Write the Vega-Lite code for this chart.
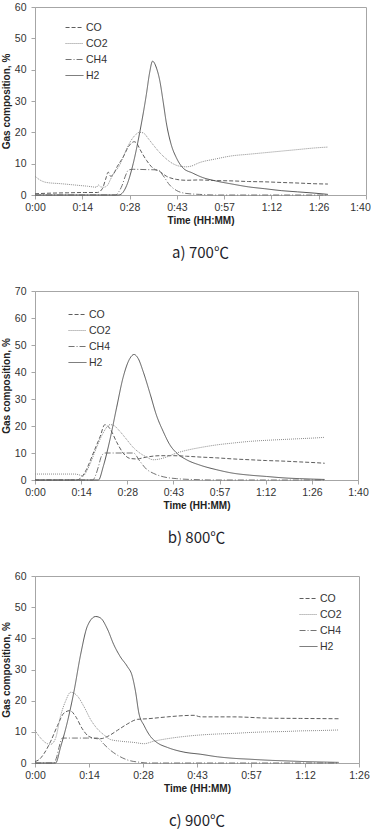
{
  "$schema": "https://vega.github.io/schema/vega-lite/v6.json",
  "padding": {"top": 1, "left": 0, "right": 0, "bottom": 0},
  "spacing": 24,
  "datasets": {
    "a": [
      {"gas": "CO", "t": 0, "v": 0.4}, {"gas": "CO", "t": 5, "v": 0.6}, {"gas": "CO", "t": 10, "v": 0.7}, {"gas": "CO", "t": 15, "v": 0.8}, {"gas": "CO", "t": 19, "v": 0.8},
      {"gas": "CO", "t": 20.5, "v": 2}, {"gas": "CO", "t": 21.5, "v": 5}, {"gas": "CO", "t": 22.3, "v": 7.3}, {"gas": "CO", "t": 23, "v": 6}, {"gas": "CO", "t": 23.8, "v": 6.5},
      {"gas": "CO", "t": 25, "v": 9}, {"gas": "CO", "t": 26.8, "v": 12}, {"gas": "CO", "t": 28.5, "v": 15.5}, {"gas": "CO", "t": 30.2, "v": 17}, {"gas": "CO", "t": 31, "v": 16.5},
      {"gas": "CO", "t": 32, "v": 14.5}, {"gas": "CO", "t": 34, "v": 11}, {"gas": "CO", "t": 36, "v": 8.5}, {"gas": "CO", "t": 38, "v": 7.5}, {"gas": "CO", "t": 40, "v": 6},
      {"gas": "CO", "t": 43, "v": 5}, {"gas": "CO", "t": 46, "v": 4.7}, {"gas": "CO", "t": 50, "v": 4.8}, {"gas": "CO", "t": 55, "v": 4.6}, {"gas": "CO", "t": 60, "v": 4.5},
      {"gas": "CO", "t": 65, "v": 4.3}, {"gas": "CO", "t": 70, "v": 4.2}, {"gas": "CO", "t": 75, "v": 4}, {"gas": "CO", "t": 80.5, "v": 3.8}, {"gas": "CO", "t": 85, "v": 3.6}, {"gas": "CO", "t": 89.2, "v": 3.5},
      {"gas": "CO2", "t": 0, "v": 6}, {"gas": "CO2", "t": 1.5, "v": 4.8}, {"gas": "CO2", "t": 3.5, "v": 4}, {"gas": "CO2", "t": 8, "v": 3.6}, {"gas": "CO2", "t": 12, "v": 3.2},
      {"gas": "CO2", "t": 16, "v": 2.8}, {"gas": "CO2", "t": 18.7, "v": 2.5}, {"gas": "CO2", "t": 19.3, "v": 3.2}, {"gas": "CO2", "t": 20, "v": 2.6}, {"gas": "CO2", "t": 21, "v": 2.5},
      {"gas": "CO2", "t": 22, "v": 3}, {"gas": "CO2", "t": 23, "v": 5}, {"gas": "CO2", "t": 24, "v": 7}, {"gas": "CO2", "t": 25.5, "v": 9}, {"gas": "CO2", "t": 27, "v": 12.5},
      {"gas": "CO2", "t": 28.5, "v": 16}, {"gas": "CO2", "t": 30, "v": 18.5}, {"gas": "CO2", "t": 31.9, "v": 20}, {"gas": "CO2", "t": 33, "v": 19.8}, {"gas": "CO2", "t": 34.5, "v": 18},
      {"gas": "CO2", "t": 36, "v": 16}, {"gas": "CO2", "t": 38, "v": 13.5}, {"gas": "CO2", "t": 40, "v": 11.5}, {"gas": "CO2", "t": 42, "v": 10}, {"gas": "CO2", "t": 44, "v": 9.2},
      {"gas": "CO2", "t": 46, "v": 9}, {"gas": "CO2", "t": 47.5, "v": 9.2}, {"gas": "CO2", "t": 50, "v": 10.3}, {"gas": "CO2", "t": 55, "v": 11.5}, {"gas": "CO2", "t": 60, "v": 12.5},
      {"gas": "CO2", "t": 65, "v": 13}, {"gas": "CO2", "t": 70, "v": 13.5}, {"gas": "CO2", "t": 75, "v": 14}, {"gas": "CO2", "t": 80, "v": 14.5}, {"gas": "CO2", "t": 85, "v": 15}, {"gas": "CO2", "t": 89.2, "v": 15.3},
      {"gas": "CH4", "t": 0, "v": 0}, {"gas": "CH4", "t": 24.5, "v": 0}, {"gas": "CH4", "t": 25.5, "v": 1}, {"gas": "CH4", "t": 26.5, "v": 3}, {"gas": "CH4", "t": 27.5, "v": 6},
      {"gas": "CH4", "t": 28.5, "v": 8}, {"gas": "CH4", "t": 30, "v": 8.2}, {"gas": "CH4", "t": 34, "v": 8.1}, {"gas": "CH4", "t": 37.5, "v": 8}, {"gas": "CH4", "t": 39, "v": 6.2},
      {"gas": "CH4", "t": 41, "v": 3.2}, {"gas": "CH4", "t": 43, "v": 1.5}, {"gas": "CH4", "t": 46, "v": 0.5}, {"gas": "CH4", "t": 50, "v": 0.2}, {"gas": "CH4", "t": 55, "v": 0}, {"gas": "CH4", "t": 89.2, "v": 0},
      {"gas": "H2", "t": 0, "v": 0}, {"gas": "H2", "t": 25.5, "v": 0}, {"gas": "H2", "t": 26.5, "v": 0.5}, {"gas": "H2", "t": 27.9, "v": 3}, {"gas": "H2", "t": 29.9, "v": 10},
      {"gas": "H2", "t": 31.9, "v": 20}, {"gas": "H2", "t": 33.9, "v": 32}, {"gas": "H2", "t": 34.9, "v": 39}, {"gas": "H2", "t": 35.8, "v": 42.7}, {"gas": "H2", "t": 37, "v": 40.5},
      {"gas": "H2", "t": 38, "v": 36.5}, {"gas": "H2", "t": 39, "v": 30}, {"gas": "H2", "t": 40, "v": 23}, {"gas": "H2", "t": 41.5, "v": 16}, {"gas": "H2", "t": 43, "v": 12},
      {"gas": "H2", "t": 45, "v": 8.7}, {"gas": "H2", "t": 48, "v": 7}, {"gas": "H2", "t": 51, "v": 5.6}, {"gas": "H2", "t": 55, "v": 4.5}, {"gas": "H2", "t": 60, "v": 3.5},
      {"gas": "H2", "t": 65, "v": 2.6}, {"gas": "H2", "t": 70, "v": 2}, {"gas": "H2", "t": 75, "v": 1.4}, {"gas": "H2", "t": 80, "v": 1}, {"gas": "H2", "t": 85, "v": 0.6}, {"gas": "H2", "t": 89.2, "v": 0.2}
    ],
    "b": [
      {"gas": "CO", "t": 0, "v": 0}, {"gas": "CO", "t": 13, "v": 0}, {"gas": "CO", "t": 14.5, "v": 1}, {"gas": "CO", "t": 16.1, "v": 4}, {"gas": "CO", "t": 18.2, "v": 10},
      {"gas": "CO", "t": 20.3, "v": 16}, {"gas": "CO", "t": 21.8, "v": 20.5}, {"gas": "CO", "t": 23.4, "v": 19}, {"gas": "CO", "t": 25.5, "v": 14}, {"gas": "CO", "t": 27.5, "v": 10},
      {"gas": "CO", "t": 29.6, "v": 8}, {"gas": "CO", "t": 31.7, "v": 7.8}, {"gas": "CO", "t": 34.8, "v": 8.5}, {"gas": "CO", "t": 39, "v": 9}, {"gas": "CO", "t": 43.1, "v": 9},
      {"gas": "CO", "t": 47.3, "v": 8.8}, {"gas": "CO", "t": 51.5, "v": 8.5}, {"gas": "CO", "t": 56.7, "v": 8.2}, {"gas": "CO", "t": 61.9, "v": 7.8}, {"gas": "CO", "t": 67, "v": 7.5},
      {"gas": "CO", "t": 72.3, "v": 7.2}, {"gas": "CO", "t": 77.4, "v": 7}, {"gas": "CO", "t": 82.6, "v": 6.7}, {"gas": "CO", "t": 87.8, "v": 6.4}, {"gas": "CO", "t": 90.4, "v": 6.2},
      {"gas": "CO2", "t": 0, "v": 2.2}, {"gas": "CO2", "t": 12.5, "v": 2.2}, {"gas": "CO2", "t": 13.5, "v": 2}, {"gas": "CO2", "t": 15, "v": 1.5}, {"gas": "CO2", "t": 16, "v": 3},
      {"gas": "CO2", "t": 17.2, "v": 6}, {"gas": "CO2", "t": 19.2, "v": 12}, {"gas": "CO2", "t": 21.3, "v": 17.5}, {"gas": "CO2", "t": 23.4, "v": 20.5}, {"gas": "CO2", "t": 24.4, "v": 20.3},
      {"gas": "CO2", "t": 26.5, "v": 18}, {"gas": "CO2", "t": 28.6, "v": 15}, {"gas": "CO2", "t": 30.7, "v": 12}, {"gas": "CO2", "t": 32.7, "v": 10}, {"gas": "CO2", "t": 34.8, "v": 8.5},
      {"gas": "CO2", "t": 36.9, "v": 7.5}, {"gas": "CO2", "t": 39, "v": 7.8}, {"gas": "CO2", "t": 41, "v": 8.5}, {"gas": "CO2", "t": 44.2, "v": 10}, {"gas": "CO2", "t": 47.3, "v": 11},
      {"gas": "CO2", "t": 51.5, "v": 12}, {"gas": "CO2", "t": 56.7, "v": 13}, {"gas": "CO2", "t": 61.9, "v": 13.7}, {"gas": "CO2", "t": 67, "v": 14.3}, {"gas": "CO2", "t": 72.3, "v": 14.7},
      {"gas": "CO2", "t": 77.4, "v": 15}, {"gas": "CO2", "t": 82.6, "v": 15.3}, {"gas": "CO2", "t": 87.8, "v": 15.6}, {"gas": "CO2", "t": 90.4, "v": 15.8},
      {"gas": "CH4", "t": 0, "v": 0}, {"gas": "CH4", "t": 18, "v": 0}, {"gas": "CH4", "t": 19, "v": 2}, {"gas": "CH4", "t": 19.8, "v": 5}, {"gas": "CH4", "t": 20.8, "v": 9},
      {"gas": "CH4", "t": 21.8, "v": 10}, {"gas": "CH4", "t": 25, "v": 10}, {"gas": "CH4", "t": 30.7, "v": 10}, {"gas": "CH4", "t": 32.7, "v": 7}, {"gas": "CH4", "t": 34.8, "v": 4},
      {"gas": "CH4", "t": 36.9, "v": 2.5}, {"gas": "CH4", "t": 40, "v": 1.2}, {"gas": "CH4", "t": 44.2, "v": 0.5}, {"gas": "CH4", "t": 51.5, "v": 0.1}, {"gas": "CH4", "t": 55, "v": 0}, {"gas": "CH4", "t": 90.4, "v": 0},
      {"gas": "H2", "t": 0, "v": 0}, {"gas": "H2", "t": 19.8, "v": 0}, {"gas": "H2", "t": 21.3, "v": 5}, {"gas": "H2", "t": 23.4, "v": 15}, {"gas": "H2", "t": 25.5, "v": 27},
      {"gas": "H2", "t": 27.5, "v": 38}, {"gas": "H2", "t": 29.6, "v": 45}, {"gas": "H2", "t": 30.9, "v": 46.5}, {"gas": "H2", "t": 32.2, "v": 45}, {"gas": "H2", "t": 33.8, "v": 40},
      {"gas": "H2", "t": 35.9, "v": 32}, {"gas": "H2", "t": 37.9, "v": 24}, {"gas": "H2", "t": 40, "v": 18}, {"gas": "H2", "t": 42.1, "v": 13}, {"gas": "H2", "t": 44.2, "v": 10},
      {"gas": "H2", "t": 47.3, "v": 7.5}, {"gas": "H2", "t": 51.5, "v": 5.5}, {"gas": "H2", "t": 56.7, "v": 3.8}, {"gas": "H2", "t": 61.9, "v": 2.5}, {"gas": "H2", "t": 67, "v": 1.8},
      {"gas": "H2", "t": 72.3, "v": 1.3}, {"gas": "H2", "t": 77.4, "v": 0.8}, {"gas": "H2", "t": 82.6, "v": 0.5}, {"gas": "H2", "t": 90.4, "v": 0.2}
    ],
    "c": [
      {"gas": "CO", "t": 0, "v": 0.5}, {"gas": "CO", "t": 1, "v": 1}, {"gas": "CO", "t": 2.4, "v": 3}, {"gas": "CO", "t": 4.2, "v": 7}, {"gas": "CO", "t": 6, "v": 12},
      {"gas": "CO", "t": 7.7, "v": 16}, {"gas": "CO", "t": 9.3, "v": 16.8}, {"gas": "CO", "t": 10.8, "v": 15}, {"gas": "CO", "t": 12.6, "v": 11}, {"gas": "CO", "t": 14.4, "v": 8.5},
      {"gas": "CO", "t": 16.6, "v": 7.8}, {"gas": "CO", "t": 17.5, "v": 7.8}, {"gas": "CO", "t": 19.3, "v": 8.5}, {"gas": "CO", "t": 22, "v": 10.5}, {"gas": "CO", "t": 24.6, "v": 12.5},
      {"gas": "CO", "t": 27.3, "v": 14}, {"gas": "CO", "t": 30, "v": 14.2}, {"gas": "CO", "t": 35.3, "v": 14.8}, {"gas": "CO", "t": 39.7, "v": 15.2}, {"gas": "CO", "t": 42.4, "v": 15.3},
      {"gas": "CO", "t": 44.2, "v": 14.8}, {"gas": "CO", "t": 53, "v": 14.8}, {"gas": "CO", "t": 62, "v": 14.4}, {"gas": "CO", "t": 70.8, "v": 14.3}, {"gas": "CO", "t": 81, "v": 14.2},
      {"gas": "CO2", "t": 0, "v": 10.5}, {"gas": "CO2", "t": 1.5, "v": 8}, {"gas": "CO2", "t": 3.3, "v": 6.2}, {"gas": "CO2", "t": 4.2, "v": 6}, {"gas": "CO2", "t": 5.5, "v": 8},
      {"gas": "CO2", "t": 6.8, "v": 15}, {"gas": "CO2", "t": 8.2, "v": 20}, {"gas": "CO2", "t": 9.5, "v": 22.7}, {"gas": "CO2", "t": 11.3, "v": 21.5}, {"gas": "CO2", "t": 13.1, "v": 18},
      {"gas": "CO2", "t": 14.8, "v": 14}, {"gas": "CO2", "t": 16.6, "v": 11}, {"gas": "CO2", "t": 18.4, "v": 9}, {"gas": "CO2", "t": 20.2, "v": 7.5}, {"gas": "CO2", "t": 22.8, "v": 7},
      {"gas": "CO2", "t": 26.4, "v": 6.6}, {"gas": "CO2", "t": 29.1, "v": 6.2}, {"gas": "CO2", "t": 31.7, "v": 7}, {"gas": "CO2", "t": 35.3, "v": 7.8}, {"gas": "CO2", "t": 39.7, "v": 8.5},
      {"gas": "CO2", "t": 44.2, "v": 9}, {"gas": "CO2", "t": 48.6, "v": 9.3}, {"gas": "CO2", "t": 53, "v": 9.5}, {"gas": "CO2", "t": 57.5, "v": 9.8}, {"gas": "CO2", "t": 62, "v": 10},
      {"gas": "CO2", "t": 66.4, "v": 10.1}, {"gas": "CO2", "t": 70.8, "v": 10.3}, {"gas": "CO2", "t": 75.3, "v": 10.4}, {"gas": "CO2", "t": 81, "v": 10.6},
      {"gas": "CH4", "t": 0, "v": 0}, {"gas": "CH4", "t": 5, "v": 0}, {"gas": "CH4", "t": 5.8, "v": 2}, {"gas": "CH4", "t": 6.4, "v": 5}, {"gas": "CH4", "t": 7.3, "v": 8},
      {"gas": "CH4", "t": 10, "v": 8}, {"gas": "CH4", "t": 14, "v": 8}, {"gas": "CH4", "t": 16.6, "v": 8}, {"gas": "CH4", "t": 18.4, "v": 6}, {"gas": "CH4", "t": 20.2, "v": 4},
      {"gas": "CH4", "t": 22, "v": 2.5}, {"gas": "CH4", "t": 24.6, "v": 1}, {"gas": "CH4", "t": 28.2, "v": 0.2}, {"gas": "CH4", "t": 30, "v": 0}, {"gas": "CH4", "t": 81, "v": 0},
      {"gas": "H2", "t": 0, "v": 0}, {"gas": "H2", "t": 5.5, "v": 0}, {"gas": "H2", "t": 6.8, "v": 5}, {"gas": "H2", "t": 8.6, "v": 13}, {"gas": "H2", "t": 10.4, "v": 23},
      {"gas": "H2", "t": 12.2, "v": 35}, {"gas": "H2", "t": 14, "v": 44}, {"gas": "H2", "t": 16.2, "v": 47}, {"gas": "H2", "t": 17.5, "v": 46.5}, {"gas": "H2", "t": 19.3, "v": 43},
      {"gas": "H2", "t": 21, "v": 38}, {"gas": "H2", "t": 22.8, "v": 34}, {"gas": "H2", "t": 24.6, "v": 31}, {"gas": "H2", "t": 25.9, "v": 28}, {"gas": "H2", "t": 26.8, "v": 23},
      {"gas": "H2", "t": 27.7, "v": 16}, {"gas": "H2", "t": 29.1, "v": 12}, {"gas": "H2", "t": 30.8, "v": 8.5}, {"gas": "H2", "t": 32.6, "v": 6.5}, {"gas": "H2", "t": 35.3, "v": 5},
      {"gas": "H2", "t": 39.7, "v": 3.5}, {"gas": "H2", "t": 44.2, "v": 2.8}, {"gas": "H2", "t": 48.6, "v": 2}, {"gas": "H2", "t": 53, "v": 1.5}, {"gas": "H2", "t": 57.5, "v": 1.2},
      {"gas": "H2", "t": 62, "v": 0.9}, {"gas": "H2", "t": 66.4, "v": 0.7}, {"gas": "H2", "t": 70.8, "v": 0.5}, {"gas": "H2", "t": 81, "v": 0.2}
    ]
  },
  "vconcat": [
    {
      "width": 331,
      "height": 188,
      "data": {"name": "a"},
      "title": {"text": "a) 700℃", "orient": "bottom", "offset": 20},
      "mark": {"type": "line", "interpolate": "monotone", "strokeWidth": 1},
      "encoding": {
        "x": {"field": "t", "type": "quantitative", "scale": {"domain": [0, 100.8], "nice": false},
              "axis": {"values": [0, 14.4, 28.8, 43.2, 57.6, 72, 86.4, 100.8], "labelExpr": "floor(datum.value/60) + ':' + (floor(datum.value%60) < 10 ? '0' : '') + floor(datum.value%60)",
                       "labelOffset": {"condition": {"test": "datum.value > 100", "value": -6}, "value": 0}, "title": "Time (HH:MM)"}},
        "y": {"field": "v", "type": "quantitative", "scale": {"domain": [0, 60], "nice": false},
              "axis": {"values": [0, 10, 20, 30, 40, 50, 60], "title": "Gas composition, %"}},
        "color": {"field": "gas", "type": "nominal", "scale": {"domain": ["CO", "CO2", "CH4", "H2"], "range": ["#5e5e5e", "#8c8c8c", "#747474", "#565656"]},
                  "legend": {"legendX": 30, "legendY": 11}},
        "strokeDash": {"field": "gas", "type": "nominal", "scale": {"domain": ["CO", "CO2", "CH4", "H2"], "range": [[4, 2], [1, 1], [6, 2, 1, 2], [1, 0]]},
                  "legend": {"legendX": 30, "legendY": 11}}
      }
    },
    {
      "width": 323,
      "height": 189,
      "data": {"name": "b"},
      "title": {"text": "b) 800℃", "orient": "bottom", "offset": 20},
      "mark": {"type": "line", "interpolate": "monotone", "strokeWidth": 1},
      "encoding": {
        "x": {"field": "t", "type": "quantitative", "scale": {"domain": [0, 100.8], "nice": false},
              "axis": {"values": [0, 14.4, 28.8, 43.2, 57.6, 72, 86.4, 100.8], "labelExpr": "floor(datum.value/60) + ':' + (floor(datum.value%60) < 10 ? '0' : '') + floor(datum.value%60)", "title": "Time (HH:MM)"}},
        "y": {"field": "v", "type": "quantitative", "scale": {"domain": [0, 70], "nice": false},
              "axis": {"values": [0, 10, 20, 30, 40, 50, 60, 70], "title": "Gas composition, %"}},
        "color": {"field": "gas", "type": "nominal", "scale": {"domain": ["CO", "CO2", "CH4", "H2"], "range": ["#5e5e5e", "#8c8c8c", "#747474", "#565656"]},
                  "legend": {"legendX": 33, "legendY": 14}},
        "strokeDash": {"field": "gas", "type": "nominal", "scale": {"domain": ["CO", "CO2", "CH4", "H2"], "range": [[4, 2], [1, 1], [6, 2, 1, 2], [1, 0]]},
                  "legend": {"legendX": 33, "legendY": 14}}
      }
    },
    {
      "width": 324,
      "height": 187,
      "data": {"name": "c"},
      "title": {"text": "c) 900℃", "orient": "bottom", "offset": 20},
      "mark": {"type": "line", "interpolate": "monotone", "strokeWidth": 1},
      "encoding": {
        "x": {"field": "t", "type": "quantitative", "scale": {"domain": [0, 86.4], "nice": false},
              "axis": {"values": [0, 14.4, 28.8, 43.2, 57.6, 72, 86.4], "labelExpr": "floor(datum.value/60) + ':' + (floor(datum.value%60) < 10 ? '0' : '') + floor(datum.value%60)", "title": "Time (HH:MM)"}},
        "y": {"field": "v", "type": "quantitative", "scale": {"domain": [0, 60], "nice": false},
              "axis": {"values": [0, 10, 20, 30, 40, 50, 60], "title": "Gas composition, %"}},
        "color": {"field": "gas", "type": "nominal", "scale": {"domain": ["CO", "CO2", "CH4", "H2"], "range": ["#5e5e5e", "#8c8c8c", "#747474", "#565656"]},
                  "legend": {"legendX": 264, "legendY": 13}},
        "strokeDash": {"field": "gas", "type": "nominal", "scale": {"domain": ["CO", "CO2", "CH4", "H2"], "range": [[4, 2], [1, 1], [6, 2, 1, 2], [1, 0]]},
                  "legend": {"legendX": 264, "legendY": 13}}
      }
    }
  ],
  "resolve": {"scale": {"color": "independent", "strokeDash": "independent"}},
  "config": {
    "view": {"stroke": "#a6a6a6", "strokeWidth": 1},
    "axis": {
      "grid": false,
      "domainColor": "#a6a6a6",
      "tickColor": "#a6a6a6",
      "tickSize": 4,
      "labelFlush": false,
      "labelOverlap": false,
      "labelFont": "Liberation Sans",
      "labelFontSize": 10.5,
      "labelColor": "#333333",
      "labelPadding": 3,
      "titleFont": "Liberation Sans",
      "titleFontSize": 10,
      "titleFontWeight": "bold",
      "titleColor": "#222222",
      "titlePadding": 3
    },
    "axisY": {"labelPadding": 5, "titlePadding": 3},
    "legend": {
      "orient": "none",
      "title": null,
      "symbolType": "stroke",
      "symbolSize": 320,
      "symbolStrokeWidth": 1,
      "labelFont": "Liberation Sans",
      "labelFontSize": 10.5,
      "labelColor": "#333333",
      "labelOffset": 2,
      "rowPadding": 1,
      "padding": 0
    },
    "title": {
      "font": "Noto Sans CJK KR",
      "fontSize": 15,
      "fontWeight": "normal",
      "color": "#1e1e2a",
      "anchor": "middle"
    }
  }
}
